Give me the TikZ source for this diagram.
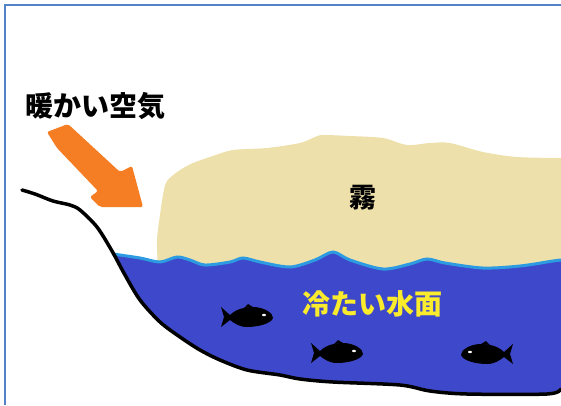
\documentclass[tikz,border=0pt]{standalone}
\usepackage{fontspec}
\newfontfamily\jp{Noto Sans CJK JP}
\definecolor{water}{RGB}{62,72,202}
\definecolor{fog}{RGB}{237,224,170}
\definecolor{surf}{RGB}{45,155,225}
\definecolor{warm}{RGB}{245,125,35}
\definecolor{coldtxt}{RGB}{250,235,45}
\definecolor{frame}{RGB}{84,130,200}
\begin{document}
\begin{tikzpicture}[x=1pt,y=-1pt,
  label/.style={inner sep=0pt,font=\jp\bfseries},
  fishshape/.pic={
    \fill[black] (-26,-10) -- (-17,-2)
      .. controls (-10,-9) and (0,-10) .. (8,-10)
      .. controls (18,-9) and (26,-4) .. (26,1)
      .. controls (24,7) and (10,10) .. (0,10)
      .. controls (-8,10) and (-13,6) .. (-17,3)
      -- (-26,10) -- (-23,0) -- cycle;
    \fill[black] (-3,-9) -- (1,-13) -- (6,-10) -- cycle;
    \fill[white] (17,-2) ellipse (2 and 1.2);
  }]
\useasboundingbox (0,0) rectangle (561,405);
\fill[white] (0,0) rectangle (561,405);

% frame along top and left edges
\draw[frame,line width=2.5pt] (5,405) -- (5,5) -- (561,5);

% fog bank
\fill[fog] plot[smooth] coordinates {(158,270) (157,240) (160,215) (163,195) (167,181)
  (180,170) (193,163) (210,157) (233,150) (267,148) (300,143) (315,137) (323,135)
  (350,136) (383,138) (407,145) (430,143) (450,143) (483,152) (517,157) (561,158)}
  -- (561,280) -- (158,280) -- cycle;

% cold water body
\fill[water] plot[smooth] coordinates {(113,254) (140,258) (160,262) (177,257)
  (190,260) (205,265) (230,262) (243,258) (260,262) (290,267) (315,260) (333,252)
  (350,260) (383,269) (410,264) (427,259) (445,263) (483,268) (520,266) (553,261) (561,260)}
  -- (561,390)
  -- plot[smooth] coordinates {(547,393) (467,393) (430,390) (400,384) (333,382)
  (300,379) (280,375) (247,370) (220,360) (200,350) (180,337) (160,322) (140,300)
  (125,275) (113,254)} -- cycle;

% water surface line
\draw[surf,line width=3pt,line cap=round] plot[smooth] coordinates {(113,254) (140,258)
  (160,262) (177,257) (190,260) (205,265) (230,262) (243,258) (260,262) (290,267)
  (315,260) (333,252) (350,260) (383,269) (410,264) (427,259) (445,263) (483,268)
  (520,266) (553,261) (561,260)};

% shore and sea floor
\draw[black,line width=3.5pt,line cap=round,line join=round] plot[smooth] coordinates {
  (22,190) (35,194) (53,201) (70,205) (80,210) (97,227) (112,251) (125,275)
  (140,300) (160,322) (180,337) (200,350) (220,360) (247,370) (280,375) (300,379)
  (333,382) (400,385) (430,391) (467,394) (547,394) (561,389)};

% warm air arrow
\fill[warm,rounded corners=2pt] (47,132) -- (68,124) -- (120,172) -- (132,166)
  -- (143,207) -- (100,207) -- (90,197) -- (98,191) -- (57,148) -- cycle;

% fish
\pic at (247,317) {fishshape};
\pic at (337,353) {fishshape};
\pic[xscale=-1] at (487,354) {fishshape};

% labels
\node[label,font=\jp\bfseries\fontsize{28}{28}\selectfont] (warmair) at (95,106) {暖かい空気};
\node[label,font=\jp\bfseries\fontsize{27}{27}\selectfont] (kiri) at (363,198) {霧};
\node[label,text=coldtxt,font=\jp\bfseries\fontsize{28}{28}\selectfont] (coldsurf) at (372,304) {冷たい水面};
\end{tikzpicture}
\end{document}
